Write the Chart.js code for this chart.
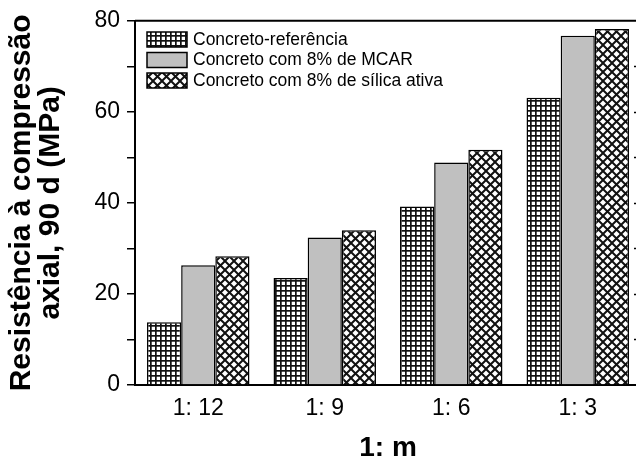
<!DOCTYPE html>
<html>
<head>
<meta charset="utf-8">
<script src="https://cdn.jsdelivr.net/npm/chart.js@4.4.1/dist/chart.umd.min.js"></script>
<style>
  html, body { margin: 0; padding: 0; background: #fff; overflow: hidden; }
  #wrap { width: 660px; height: 462px; }
</style>
</head>
<body>
<div id="wrap"><canvas id="chart"></canvas></div>
<script>
const categories = ['1: 12', '1: 9', '1: 6', '1: 3'];
const seriesNames = ['Concreto-referência', 'Concreto com 8% de MCAR', 'Concreto com 8% de sílica ativa'];
const refValues = [13.8, 23.5, 39.2, 63.1];
const mcarValues = [26.3, 32.4, 48.9, 76.7];
const silicaValues = [28.3, 34.0, 51.7, 78.2];
const yTicks = [0, 20, 40, 60, 80];

const FONT = "'Liberation Sans', Arial, sans-serif";

// fill patterns like the original figure
function gridPattern() {
  const c = document.createElement('canvas');
  c.width = 5; c.height = 5;
  const g = c.getContext('2d');
  g.fillStyle = '#fff';
  g.fillRect(0, 0, 5, 5);
  g.fillStyle = '#111';
  g.fillRect(0, 0, 1.7, 5);
  g.fillRect(0, 0, 5, 1.7);
  return g.createPattern(c, 'repeat');
}

function crossPattern() {
  const s = 9;
  const c = document.createElement('canvas');
  c.width = s; c.height = s;
  const g = c.getContext('2d');
  g.fillStyle = '#fff';
  g.fillRect(0, 0, s, s);
  g.strokeStyle = '#111';
  g.lineWidth = 2;
  g.beginPath();
  g.moveTo(-2, -2); g.lineTo(s + 2, s + 2);
  g.moveTo(s + 2, -2); g.lineTo(-2, s + 2);
  g.stroke();
  return g.createPattern(c, 'repeat');
}

const fills = [gridPattern(), '#c0c0c0', crossPattern()];

// top/right frame with inward ticks on the right
const framePlugin = {
  id: 'frame',
  afterDraw(chart) {
    const { ctx, chartArea: a } = chart;
    const y = chart.scales.y;
    ctx.save();
    ctx.strokeStyle = '#000';
    ctx.lineWidth = 2;
    ctx.beginPath();
    ctx.moveTo(a.left, a.top);
    ctx.lineTo(a.right, a.top);
    ctx.lineTo(a.right, a.bottom);
    ctx.stroke();
    ctx.lineWidth = 1.5;
    for (let v = 10; v < 80; v += 10) {
      const py = Math.round(y.getPixelForValue(v)) + 0.5;
      ctx.beginPath();
      ctx.moveTo(a.right, py);
      ctx.lineTo(a.right - 7, py);
      ctx.stroke();
    }
    ctx.restore();
  }
};

// legend drawn inside the plot, top-left
const legendPlugin = {
  id: 'innerLegend',
  afterDatasetsDraw(chart) {
    const { ctx } = chart;
    ctx.save();
    chart.data.datasets.forEach((ds, i) => {
      const bx = 147, by = 32 + i * 20.5;
      ctx.fillStyle = ds.backgroundColor;
      ctx.fillRect(bx, by, 40, 15);
      ctx.strokeStyle = '#000';
      ctx.lineWidth = 1.5;
      ctx.strokeRect(bx, by, 40, 15);
      ctx.fillStyle = '#000';
      ctx.font = '17.5px ' + FONT;
      ctx.textBaseline = 'middle';
      ctx.fillText(ds.label, 193, by + 8);
    });
    ctx.restore();
  }
};

const datasets = [refValues, mcarValues, silicaValues].map((vals, i) => ({
  label: seriesNames[i],
  data: vals,
  backgroundColor: fills[i],
  borderColor: '#000',
  borderWidth: 1.5,
  categoryPercentage: 0.81,
  barPercentage: 1.0
}));

new Chart(document.getElementById('chart'), {
  type: 'bar',
  data: { labels: categories, datasets },
  options: {
    responsive: true,
    maintainAspectRatio: false,
    animation: false,
    layout: { padding: { left: 0, right: 19, top: 18, bottom: 0 } },
    plugins: {
      legend: { display: false },
      tooltip: { enabled: false }
    },
    scales: {
      x: {
        grid: { display: false, drawTicks: false },
        border: { display: true, color: '#000', width: 2 },
        ticks: { color: '#000', padding: 10, font: { family: FONT, size: 23 } },
        title: {
          display: true,
          text: '1: m',
          color: '#000',
          padding: { top: 0, bottom: 0 },
          font: { family: FONT, size: 28, weight: 'bold', lineHeight: 0.95 }
        },
        afterFit: s => { s.height = 77; }
      },
      y: {
        min: 0,
        max: 80,
        grid: { drawOnChartArea: false, drawTicks: true, tickLength: 8, color: '#000', lineWidth: 1.5 },
        border: { display: true, color: '#000', width: 2 },
        ticks: {
          stepSize: 10,
          padding: 7,
          color: '#000',
          font: { family: FONT, size: 23 },
          callback: v => (yTicks.includes(v) ? v : '')
        },
        title: {
          display: true,
          text: ['Resistência à compressão', 'axial, 90 d (MPa)'],
          color: '#000',
          padding: { top: 7, bottom: 0 },
          font: { family: FONT, size: 30, weight: 'bold', lineHeight: 0.97 }
        },
        afterFit: s => { s.width = 135; }
      }
    }
  },
  plugins: [framePlugin, legendPlugin]
});
</script>
</body>
</html>
